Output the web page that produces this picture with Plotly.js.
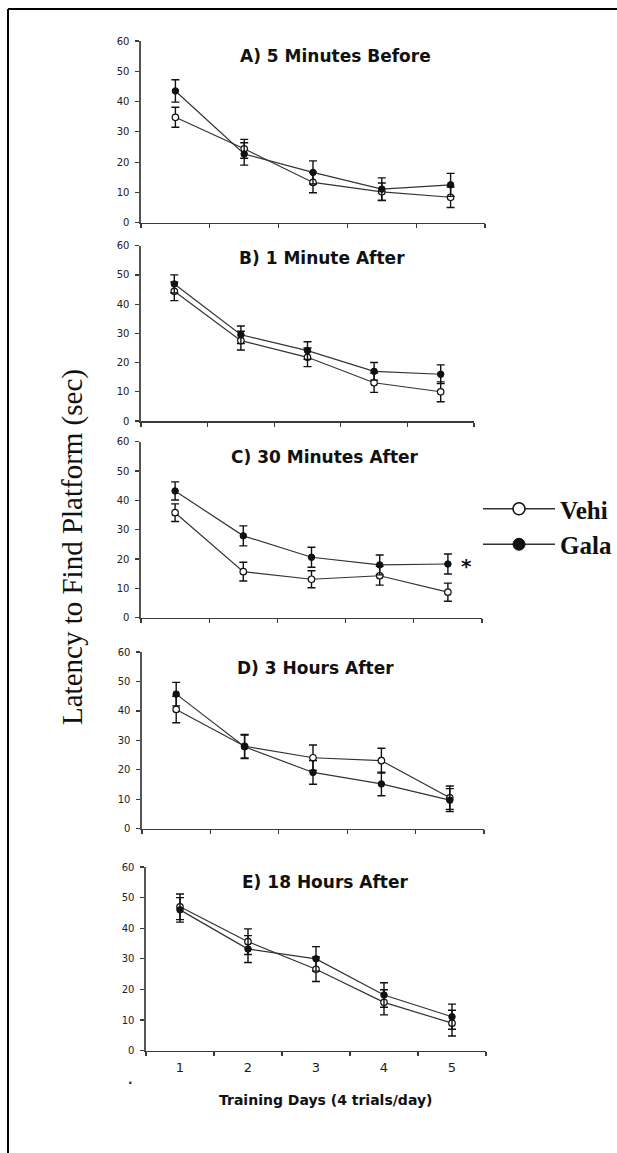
<!DOCTYPE html>
<html>
<head>
<meta charset="utf-8">
<script src="https://cdn.plot.ly/plotly-3.0.1.min.js"></script>
<style>
  html, body { margin: 0; padding: 0; background: #ffffff; }
  #chart { width: 617px; height: 1153px; }
</style>
</head>
<body>
<div id="chart"></div>
<script>
// ---------- data ----------
const days = [1, 2, 3, 4, 5];
const dayLabels = ['1', '2', '3', '4', '5'];
const panelTitles = ['A) 5 Minutes Before', 'B) 1 Minute After', 'C) 30 Minutes After', 'D) 3 Hours After', 'E) 18 Hours After'];
// legend labels as visible in the (cropped) reference
const legendLabels = ['Vehi', 'Gala'];
const yTickVals = [0, 10, 20, 30, 40, 50, 60];

const vehA = [34.8, 24.4, 13.3, 10.2, 8.4];
const vehAErr = [3.3, 3.1, 3.4, 2.9, 3.4];
const galA = [43.5, 22.7, 16.6, 11.1, 12.5];
const galAErr = [3.7, 3.7, 3.8, 3.7, 3.8];

const vehB = [44.4, 27.5, 21.8, 13.1, 10.0];
const vehBErr = [3.2, 3.2, 3.2, 3.3, 3.4];
const galB = [46.9, 29.5, 24.1, 17.0, 16.0];
const galBErr = [3.1, 3.0, 3.0, 3.0, 3.2];

const vehC = [35.8, 15.7, 13.1, 14.3, 8.7];
const vehCErr = [3.0, 3.2, 2.9, 3.2, 3.1];
const galC = [43.2, 27.9, 20.6, 18.0, 18.3];
const galCErr = [3.1, 3.4, 3.4, 3.4, 3.4];

const vehD = [40.5, 28.0, 24.1, 23.1, 10.5];
const vehDErr = [4.5, 4.0, 4.3, 4.2, 4.0];
const galD = [45.7, 27.8, 19.1, 15.2, 9.7];
const galDErr = [4.0, 4.0, 4.0, 4.0, 3.9];

const vehE = [47.0, 35.6, 26.6, 15.8, 9.0];
const vehEErr = [4.2, 4.2, 4.0, 4.1, 4.2];
const galE = [46.0, 33.2, 30.0, 18.2, 11.1];
const galEErr = [4.0, 4.4, 4.0, 4.0, 4.1];

const vehicleSeries = [vehA, vehB, vehC, vehD, vehE];
const vehicleErrors = [vehAErr, vehBErr, vehCErr, vehDErr, vehEErr];
const galSeries = [galA, galB, galC, galD, galE];
const galErrors = [galAErr, galBErr, galCErr, galDErr, galEErr];

// ---------- layout geometry (pixels) ----------
const W = 617, H = 1153;
const px = v => v / W;
const py = v => 1 - v / H;
const panelBoxes = [
  {x0: 141, x1: 485, y0: 41,    y1: 222.7},
  {x0: 141, x1: 474, y0: 245.7, y1: 421},
  {x0: 141, x1: 482, y0: 441.7, y1: 617.7},
  {x0: 142, x1: 484, y0: 652,   y1: 828.7},
  {x0: 146, x1: 486, y0: 867,   y1: 1050.7}
];
const titlePos = [[335, 56], [322, 258], [325, 457], [315, 668], [325, 882]];

const axisColor = '#3a3a3a';
const lineColor = '#333333';
const traces = [];
const layout = {
  width: W, height: H,
  margin: {l: 0, r: 0, t: 0, b: 0, autoexpand: false},
  paper_bgcolor: '#ffffff',
  plot_bgcolor: 'rgba(0,0,0,0)',
  showlegend: true,
  legend: {
    x: px(478), y: py(486), xanchor: 'left', yanchor: 'top',
    font: {family: 'Liberation Serif', size: 25, color: '#111111', weight: 'bold'},
    bgcolor: 'rgba(0,0,0,0)', borderwidth: 0,
    itemsizing: 'trace', itemwidth: 72, tracegroupgap: 0
  },
  annotations: [],
  shapes: []
};

panelBoxes.forEach((b, i) => {
  const n = i + 1;
  const xa = 'xaxis' + (n === 1 ? '' : n);
  const ya = 'yaxis' + (n === 1 ? '' : n);
  const xr = 'x' + (n === 1 ? '' : n);
  const yr = 'y' + (n === 1 ? '' : n);
  layout[xa] = {
    domain: [px(b.x0), px(b.x1)], anchor: yr,
    range: [0.5, 5.5], fixedrange: true,
    showgrid: false, zeroline: false,
    showline: true, linecolor: axisColor, linewidth: 1.5,
    tickmode: 'array', tickvals: days, ticktext: dayLabels,
    ticks: '', showticklabels: n === 5,
    tickfont: {family: 'DejaVu Sans', size: 13, color: '#1a1a1a'},
    ticklabelstandoff: 4,
    minor: {tickmode: 'array', tickvals: [0.5, 1.5, 2.5, 3.5, 4.5, 5.5], ticks: 'outside', ticklen: 4, tickwidth: 1.2, tickcolor: axisColor, showgrid: false}
  };
  layout[ya] = {
    domain: [py(b.y1), py(b.y0)], anchor: xr,
    range: [0, 60], fixedrange: true,
    showgrid: false, zeroline: false,
    showline: true, linecolor: '#555555', linewidth: 1.6,
    tickmode: 'array', tickvals: yTickVals,
    ticks: 'outside', ticklen: 4, tickwidth: 1.2, tickcolor: axisColor,
    tickfont: {family: 'DejaVu Sans', size: 10, color: '#222222'},
    ticklabelstandoff: 4
  };
  traces.push({
    type: 'scatter', mode: 'lines+markers', x: days, y: vehicleSeries[i],
    xaxis: xr, yaxis: yr, name: legendLabels[0], showlegend: false,
    line: {color: lineColor, width: 1.2},
    marker: {symbol: 'circle', size: 6.5, color: '#ffffff', line: {color: '#111111', width: 1.2}},
    error_y: {type: 'data', array: vehicleErrors[i], visible: true, color: '#111111', thickness: 1.4, width: 4},
    cliponaxis: false
  });
  traces.push({
    type: 'scatter', mode: 'lines+markers', x: days, y: galSeries[i],
    xaxis: xr, yaxis: yr, name: legendLabels[1], showlegend: false,
    line: {color: lineColor, width: 1.2},
    marker: {symbol: 'circle', size: 6.5, color: '#111111', line: {color: '#111111', width: 1}},
    error_y: {type: 'data', array: galErrors[i], visible: true, color: '#111111', thickness: 1.4, width: 4},
    cliponaxis: false
  });
  layout.annotations.push({
    xref: 'paper', yref: 'paper', x: px(titlePos[i][0]), y: py(titlePos[i][1]),
    xanchor: 'center', yanchor: 'middle', showarrow: false,
    text: panelTitles[i],
    font: {family: 'DejaVu Sans', size: 17, color: '#111111', weight: 'bold'}
  });
});

// legend-only entries (no data points; they only supply the legend symbols)
traces.push({
  type: 'scatter', mode: 'lines+markers', x: [null], y: [null], name: legendLabels[0], showlegend: true,
  line: {color: lineColor, width: 1.3},
  marker: {symbol: 'circle', size: 12, color: '#ffffff', line: {color: '#111111', width: 1.6}}
});
traces.push({
  type: 'scatter', mode: 'lines+markers', x: [null], y: [null], name: legendLabels[1], showlegend: true,
  line: {color: lineColor, width: 1.3},
  marker: {symbol: 'circle', size: 12, color: '#111111', line: {color: '#111111', width: 1}}
});

// significance marker on panel C
layout.annotations.push({
  xref: 'x3', yref: 'y3', x: days[4], y: galC[4], xshift: 19, yshift: -2,
  showarrow: false, text: '*',
  font: {family: 'DejaVu Sans', size: 20, color: '#111111', weight: 'bold'}
});
// shared y title
layout.annotations.push({
  xref: 'paper', yref: 'paper', x: px(72), y: py(547), textangle: -90,
  xanchor: 'center', yanchor: 'middle', showarrow: false,
  text: 'Latency to Find Platform (sec)',
  font: {family: 'Liberation Serif', size: 29, color: '#111111'}
});
// x title
layout.annotations.push({
  xref: 'paper', yref: 'paper', x: px(325), y: py(1100),
  xanchor: 'center', yanchor: 'middle', showarrow: false,
  text: 'Training Days (4 trials/day)',
  font: {family: 'DejaVu Sans', size: 14, color: '#111111', weight: 'bold'}
});
// small stray dot
layout.annotations.push({
  xref: 'paper', yref: 'paper', x: px(130), y: py(1080),
  xanchor: 'center', yanchor: 'middle', showarrow: false,
  text: '.', font: {family: 'DejaVu Sans', size: 12, color: '#222222', weight: 'bold'}
});

// page frame (top and left edges)
layout.shapes.push({type: 'line', xref: 'paper', yref: 'paper', x0: px(8), x1: 1.05, y0: py(9), y1: py(9), line: {color: '#000000', width: 2}});
layout.shapes.push({type: 'line', xref: 'paper', yref: 'paper', x0: px(8), x1: px(8), y0: py(9), y1: -0.05, line: {color: '#000000', width: 2}});

Plotly.newPlot('chart', traces, layout, {displayModeBar: false, staticPlot: true});
</script>
</body>
</html>
